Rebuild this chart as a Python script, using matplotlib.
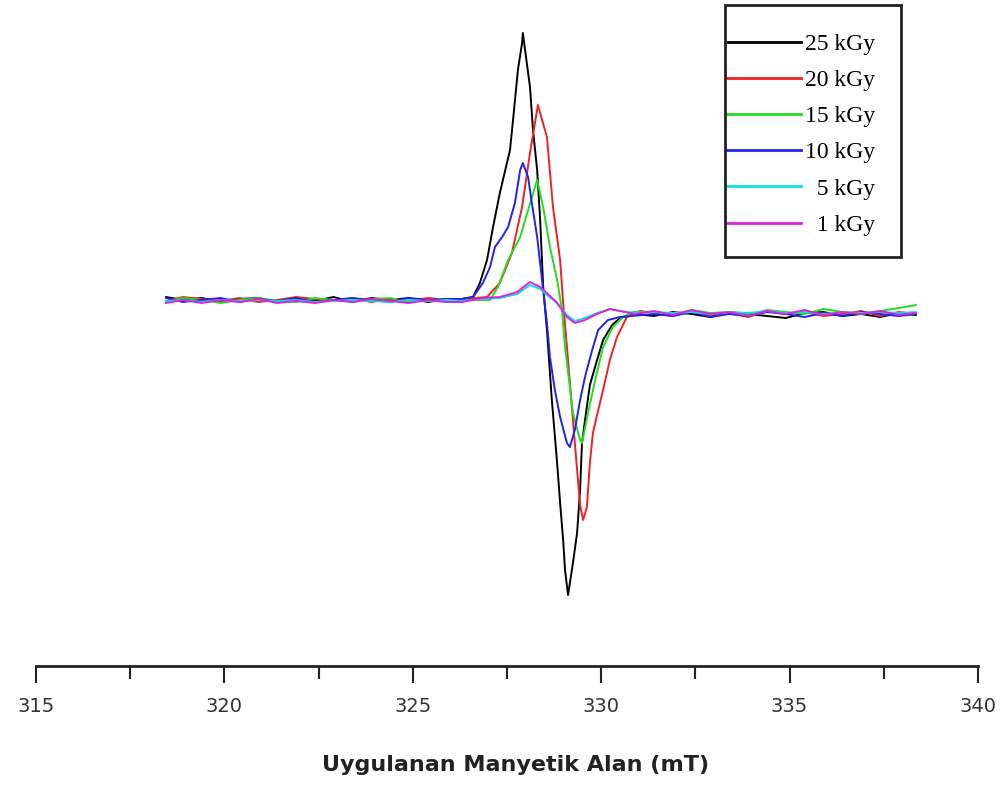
import matplotlib
matplotlib.use("Agg")
import matplotlib.pyplot as plt
from matplotlib.patches import Rectangle

# shared baseline sample positions (mT)
FIELD_LEFT = [318.45, 318.9, 319.4, 319.9, 320.4, 320.9, 321.4, 321.9, 322.4,
              322.9, 323.4, 323.9, 324.4, 324.9, 325.4, 325.9, 326.3]
FIELD_RIGHT = [331.4, 331.9, 332.4, 332.9, 333.4, 333.9, 334.4, 334.9,
               335.4, 335.9, 336.4, 336.9, 337.4, 337.9, 338.35]

labels = ['25 kGy', '20 kGy', '15 kGy', '10 kGy', '  5 kGy', '  1 kGy']
colors = ['#000000', '#ee2222', '#22dd22', '#2222ee', '#11dddd', '#dd22dd']

# 25 kGy
k25_left = [3, 0, 2, -2, 1, 2, -2, 1, -1, 3, -2, 2, 0, 2, -2, 1, 1]
k25_field = [326.60, 326.78, 326.97, 327.13, 327.31, 327.58, 327.66, 327.79, 327.90,
             327.92, 328.11, 328.19, 328.30, 328.38, 328.46, 328.56, 328.69, 328.83,
             328.91, 328.99, 329.04, 329.12, 329.25, 329.36, 329.44, 329.49,
             329.57, 329.70, 329.89, 330.05, 330.29, 330.50, 330.90]
k25_val = [3, 17, 40, 73, 107, 150, 180, 230, 257,
           267, 213, 170, 130, 80, 13, -30, -100, -163,
           -203, -240, -270, -295, -263, -233, -190, -143,
           -120, -85, -60, -40, -25, -18, -14]
k25_right = [-16, -12, -14, -17, -12, -14, -16, -18, -13, -12, -16, -14, -17, -13, -15]

# 20 kGy
k20_left = [-1, 3, 1, -1, 2, -2, 0, 3, 1, -1, 2, -2, 1, -1, 2, 0, 1]
k20_field = [326.97, 327.31, 327.63, 327.90, 328.11, 328.32, 328.56, 328.72,
             328.91, 328.99, 329.12, 329.25, 329.36, 329.44, 329.52, 329.62,
             329.70, 329.78, 329.89, 330.05, 330.23, 330.42, 330.68, 331.03]
k20_val = [3, 17, 47, 93, 147, 195, 163, 93,
           40, -3, -60, -120, -170, -205, -220, -207,
           -163, -133, -115, -90, -60, -37, -17, -11]
k20_right = [-13, -16, -11, -15, -13, -17, -11, -14, -12, -16, -14, -11, -16, -12, -14]

# 15 kGy
k15_left = [-2, 2, 0, -3, 0, 2, -1, -2, 2, 0, -2, 1, 2, -2, 0, -2, 0]
k15_field = [327.05, 327.26, 327.53, 327.85, 328.06, 328.30, 328.46, 328.64,
             328.83, 328.96, 329.04, 329.25, 329.44, 329.49, 329.65, 329.84,
             330.05, 330.31, 330.58, 330.84]
k15_val = [0, 13, 40, 63, 90, 120, 93, 53,
           20, -10, -47, -113, -140, -143, -113, -80,
           -47, -27, -17, -12]
k15_right = [-12, -15, -10, -13, -12, -15, -10, -12, -14, -9, -12, -14, -11, -8, -5]

# 10 kGy
k10_left = [2, -2, 0, 2, -2, 1, -1, 2, -2, 0, 2, 0, -2, 2, 0, 1, 1]
k10_field = [326.60, 326.86, 327.05, 327.18, 327.37, 327.53, 327.71, 327.85,
             327.92, 328.06, 328.16, 328.30, 328.46, 328.56, 328.64, 328.77,
             328.91, 329.09, 329.17, 329.30, 329.44, 329.57, 329.76, 329.92,
             330.18, 330.50]
k10_val = [3, 17, 33, 53, 63, 73, 97, 130,
           137, 123, 97, 63, 10, -23, -57, -90,
           -117, -143, -147, -130, -100, -77, -50, -30,
           -20, -17]
k10_right = [-14, -16, -12, -17, -14, -16, -12, -14, -17, -13, -16, -12, -14, -16, -14]

# 5 kGy
k5_left = [-1, 0, -2, 0, -1, 0, -1, 0, -2, -1, 0, -1, -2, 0, -1, 0, -1]
k5_field = [326.86, 327.31, 327.77, 328.11, 328.38, 328.56, 328.83, 329.09,
            329.30, 329.57, 329.89, 330.23, 330.50, 330.90]
k5_val = [1, 2, 6, 15, 11, 5, -3, -15, -21, -18, -13, -9, -11, -13]
k5_right = [-12, -13, -12, -14, -12, -13, -11, -13, -12, -14, -12, -13, -12, -13, -12]

# 1 kGy
k1_left = [-3, 0, -3, 0, -2, 1, -3, -1, -3, 0, -2, 1, -1, -3, 0, -2, -2]
k1_field = [326.86, 327.31, 327.77, 328.11, 328.38, 328.56, 328.83, 329.09,
            329.30, 329.57, 329.89, 330.23, 330.50, 330.90]
k1_val = [2, 3, 8, 18, 13, 7, -3, -17, -23, -20, -14, -9, -11, -14]
k1_right = [-11, -15, -10, -14, -12, -16, -11, -14, -10, -15, -12, -14, -11, -15, -13]

series = [
    (k25_left, k25_field, k25_val, k25_right),
    (k20_left, k20_field, k20_val, k20_right),
    (k15_left, k15_field, k15_val, k15_right),
    (k10_left, k10_field, k10_val, k10_right),
    (k5_left, k5_field, k5_val, k5_right),
    (k1_left, k1_field, k1_val, k1_right),
]

fig = plt.figure(figsize=(10, 7.96), dpi=100)
ax = fig.add_axes([0.036, 0.1633, 0.942, 0.8367])

for (left, fld, val, right), lab, col in zip(series, labels, colors):
    x = FIELD_LEFT + fld + FIELD_RIGHT
    y = left + val + right
    ax.plot(x, y, color=col, lw=1.4, label=lab)

ax.set_xlim(315, 340)
ax.set_ylim(-366, 300)
ax.set_xticks([315, 320, 325, 330, 335, 340])
ax.set_xticks([317.5, 322.5, 327.5, 332.5, 337.5], minor=True)
for s in ['left', 'top', 'right']:
    ax.spines[s].set_visible(False)
ax.spines['bottom'].set_linewidth(2)
ax.spines['bottom'].set_color('#222222')
ax.set_yticks([])
ax.tick_params(axis='x', which='major', length=12, width=1.5, color='#222222',
               pad=10, labelsize=14, labelcolor='#333333')
ax.tick_params(axis='x', which='minor', length=9, width=1.5, color='#222222')

fig.text(0.516, 0.026, 'Uygulanan Manyetik Alan (mT)', ha='center', va='bottom',
         fontsize=16, fontweight='bold', color='#222222')

# legend box
fig.patches.append(Rectangle((0.725, 0.6771), 0.176, 0.3166, transform=fig.transFigure,
                             fill=False, edgecolor='#222222', lw=2))
leg = ax.legend(loc='upper left', bbox_to_anchor=(0.7255, 0.958),
                bbox_transform=fig.transFigure, frameon=False, borderpad=0,
                borderaxespad=0, handlelength=3.2, handletextpad=0.15,
                labelspacing=0.62, prop={'family': 'Liberation Serif', 'size': 17})
for h in leg.get_lines():
    h.set_linewidth(2)

fig.savefig('out.png', dpi=100)
